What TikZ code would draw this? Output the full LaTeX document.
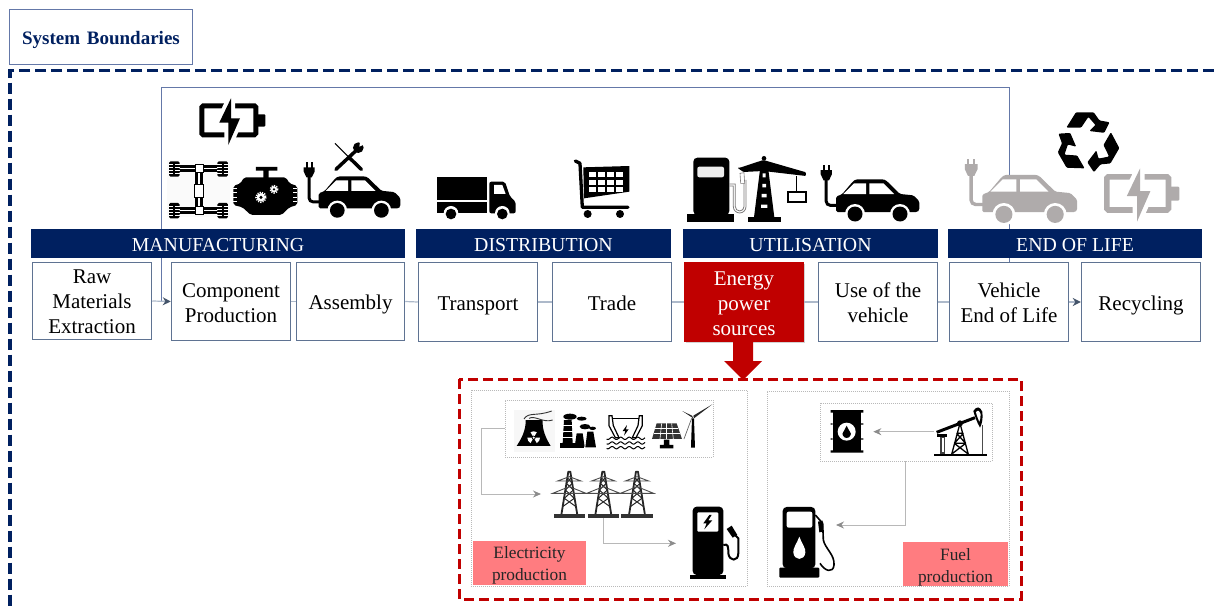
\documentclass[tikz,border=0pt]{standalone}
\usepackage{fontspec}
\setmainfont{Liberation Serif}
\usetikzlibrary{arrows.meta,shadows}
\definecolor{navy}{HTML}{002060}
\definecolor{crim}{HTML}{C00000}
\definecolor{pinkl}{HTML}{FF7C80}
\definecolor{slate}{HTML}{5F7392}
\definecolor{linkc}{HTML}{ADB9CA}
\definecolor{loopc}{HTML}{6478A8}
\definecolor{headc}{HTML}{44546A}
\definecolor{fade}{HTML}{AFABAB}
\definecolor{flow}{HTML}{B8B8B8}
\definecolor{flowh}{HTML}{8C8C8C}
\newcommand\lowt[2]{\raisebox{-#1pt}[\height][\depth]{\begin{tabular}{@{}c@{}}#2\end{tabular}}}
\tikzset{
  procbox/.style={draw=slate,line width=1.5pt,fill=white,text=black,inner sep=0pt,minimum width=119pt,minimum height=78pt,font=\fontsize{21}{25}\selectfont},
  barbox/.style={fill=navy,text=white,inner sep=0pt,minimum height=29pt,font=\fontsize{19.8}{23}\selectfont},
  link/.style={draw=linkc,line width=1.2pt},
  linkarrow/.style={link,-{Stealth[length=8pt,width=8pt,color=headc]}},
  flowline/.style={draw=flow,line width=1pt,-{Stealth[length=8pt,width=7pt,color=flowh]}},
  panelbox/.style={draw=gray!55,line width=.8pt,dash pattern=on 1pt off 1pt,inner sep=0pt,fill=white},
  pinkbox/.style={fill=pinkl,inner sep=0pt,text=black!85,font=\fontsize{17.3}{22}\selectfont},
  zoomE/.style={shift={(460,375)},scale=0.3333},
  zoomF/.style={shift={(760,375)},scale=0.3333},
  zoomM/.style={shift={(150,80)},scale=0.3333},
  zoomU/.style={shift={(680,90)},scale=0.3333},
  zoomD/.style={shift={(420,150)},scale=0.3333},
}
\newcommand\iconCar[4]{\begin{scope}[shift={(#1,#2)},scale=#3]
  \fill[#4] (2.7,-58.3) rectangle (4.6,-53);
  \fill[#4] (8,-58.3) rectangle (9.9,-53);
  \fill[#4] (0.7,-53.3) -- (11.9,-53.3) -- (11.9,-49) -- (9,-43) -- (3.5,-43) -- (0.7,-49) -- cycle;
  \draw[#4,line width=#3*3pt] (6.2,-44) -- (6.2,-22) arc[start angle=180,end angle=90,radius=4] -- (17,-18);
  \fill[#4,rounded corners=1.5pt] (16,-11.3) -- (16,-26.7) -- (22,-29) -- (33,-42) -- (36,-44) -- (63.3,-44) -- (66,-43) -- (80,-29.3) -- (93.3,-28) -- (99.3,-22) -- (99.3,-13) -- (97.3,-11.3) -- cycle;
  \fill[white] (23.3,-29.3) -- (34,-40) -- (46,-40) -- (46,-29.3) -- cycle;
  \fill[white] (49.3,-40) -- (63.3,-40) -- (74,-29.3) -- (49.3,-29.3) -- cycle;
  \fill[white] (35,-9.3) circle (10) (80,-9.3) circle (10);
  \fill[#4] (35,-9.3) circle (7.5) (80,-9.3) circle (7.5);
\end{scope}}
\newcommand\iconBatt[4]{\begin{scope}[shift={(#1,#2)},scale=#3]
  \draw[#4,line width=#3*5pt,rounded corners=1.5pt] (2.5,7.5) rectangle (56.5,36.5);
  \fill[#4,rounded corners=1pt] (58,16) rectangle (66,28.3);
  \path[draw=white,fill=white,line width=#3*8pt,line join=round] (31.7,0) -- (20,24.3) -- (29,24.3) -- (29,46.7) -- (40.7,20) -- (31.7,20) -- cycle;
  \fill[#4] (31.7,0) -- (20,24.3) -- (29,24.3) -- (29,46.7) -- (40.7,20) -- (31.7,20) -- cycle;
\end{scope}}
\newcommand\axwheel[2]{%
  \fill[black,rounded corners=1.5pt] (#1-16,#2-23) rectangle (#1+16,#2+23);
  \foreach \d in {-14,-5,5,14}{\draw[white,line width=.9pt] (#1-16,#2+\d) -- (#1-3,#2+\d) (#1+3,#2+\d) -- (#1+16,#2+\d);}%
}
\newcommand\gearw[3]{%
  \draw[white,line width=1.6pt,dash pattern=on 1.2pt off 1.2pt] (#1,#2) circle (#3);
  \fill[white] (#1,#2) circle (#3*0.85);
  \fill[black] (#1,#2) circle (#3*0.35);
}
\newcommand\pylon[1]{%
  \draw[black!85,line width=1.8pt,line join=round] (#1-24,420) -- (#1-3,290) -- (#1+3,290) -- (#1+24,420);
  \draw[black!85,line width=1pt] (#1-20,395) -- (#1+15,370) -- (#1-12,345) -- (#1+9,325) -- (#1-6,308) (#1+20,395) -- (#1-15,370) -- (#1+12,345) -- (#1-9,325) -- (#1+6,308);
  \draw[black!70,line width=.9pt] (#1-35,318) -- (#1+35,318) -- (#1,305) -- cycle;
  \draw[black!70,line width=.9pt] (#1-50,355) -- (#1+50,355) -- (#1,335) -- cycle;
  \fill[black!80] (#1-47,417) rectangle (#1+47,428);
}
\newcommand\waveln[1]{\draw[black,line width=1pt] plot[domain=440:555,samples=46] (\x,{#1+3.5*sin(\x*14)});}
\begin{document}
\begin{tikzpicture}[x=1pt,y=-1pt]
\useasboundingbox (0,0) rectangle (1214,610);
\fill[white] (0,0) rectangle (1214,610);
% title and outer frame
\node[draw=loopc,line width=1.3pt,minimum width=183pt,minimum height=55pt,inner sep=0pt,text=navy,font=\fontsize{19}{23}\selectfont\bfseries] (sysb) at (101,37) {\lowt{2.5}{System\hspace{2pt} Boundaries}};
\coordinate (ftr) at (1214,70.5);
\coordinate (ftl) at (10,70.5);
\coordinate (fbl) at (10,610);
\draw[navy,line width=3.5pt,dash pattern=on 11pt off 5pt] (ftr) -- (ftl) -- (fbl);
% process boxes
\node[procbox,minimum height=77pt] (raw) at (92,301) {\lowt{2.5}{Raw\\Materials\\Extraction}};
\node[procbox] (comp) at (231,301.5) {\lowt{3}{Component\\Production}};
\node[procbox,minimum width=108pt] (asm) at (350.5,301.5) {\lowt{3}{\vphantom{Tp}Assembly}};
\node[procbox,minimum height=79pt] (trans) at (478,302) {\lowt{3}{\vphantom{Tp}Transport}};
\node[procbox,minimum height=79pt] (trade) at (612,302) {\lowt{3}{\vphantom{Tp}Trade}};
\node[procbox,draw=crim,fill=crim,text=white,minimum height=79pt,drop shadow={shadow xshift=1pt,shadow yshift=-1.5pt,opacity=.35}] (energy) at (744,302) {\lowt{3}{Energy\\power\\sources}};
\node[procbox,minimum height=79pt] (use) at (878,302) {\lowt{3}{Use of the\\vehicle}};
\node[procbox,minimum height=79pt] (veh) at (1009,302) {\lowt{3}{Vehicle\\End of Life}};
\node[procbox,minimum height=79pt] (recy) at (1141,302) {\lowt{3}{\vphantom{Tp}Recycling}};
% connectors
\coordinate (looptr) at (1009,87);
\coordinate (looptl) at (161,87);
\coordinate (loopb) at (161,301);
\draw[loopc,line width=1pt] (veh.north) -- (looptr) -- (looptl) -- (loopb);
\draw[linkarrow] (raw.east) -- (comp.west);
\draw[link] (comp.east) -- (asm.west);
\draw[link] (asm.east) -- (trans.west);
\draw[link] (trans.east) -- (trade.west);
\draw[link] (trade.east) -- (energy.west);
\draw[link] (energy.east) -- (use.west);
\draw[link] (use.east) -- (veh.west);
\draw[linkarrow] (veh.east) -- (recy.west);
% bars
\node[barbox,minimum width=374pt] (bman) at (218,243.5) {\lowt{3}{MANUFACTURING}};
\node[barbox,minimum width=255pt] (bdis) at (543.5,243.5) {\lowt{3}{DISTRIBUTION}};
\node[barbox,minimum width=255pt] (buti) at (810.5,243.5) {\lowt{3}{UTILISATION}};
\node[barbox,minimum width=254pt] (beol) at (1075,243.5) {\lowt{3}{END OF LIFE}};
% lower frame
\coordinate (redtip) at (743,380);
\fill[crim] (733,342) -- (753,342) -- (753,361) -- (762,361) -- (redtip) -- (724,361) -- (733,361) -- cycle;
\draw[crim,line width=3pt,dash pattern=on 10pt off 5pt] (459,379) rectangle (1021,599);
\node[panelbox,minimum width=276pt,minimum height=196pt] (pel) at (609,488) {};
\node[panelbox,minimum width=242pt,minimum height=195pt] (pfu) at (888,488.5) {};
\node[panelbox,minimum width=208pt,minimum height=57pt] (src) at (609,428.5) {};
\node[panelbox,minimum width=172pt,minimum height=58pt] (oil) at (906,432) {};
\node[pinkbox,minimum width=113pt,minimum height=43pt] (lel) at (529.5,562.5) {\lowt{2.5}{Electricity\\production}};
\node[pinkbox,minimum width=105pt,minimum height=42pt] (lfu) at (955.5,564) {\lowt{3}{Fuel\\production}};
\coordinate (f1a) at (481,428.5);
\coordinate (f1b) at (481,494);
\coordinate (f1c) at (541,494);
\coordinate (f2a) at (603.7,518);
\coordinate (f2b) at (603.7,543.3);
\coordinate (f2c) at (676,543.3);
\coordinate (f3a) at (934,431.7);
\coordinate (f3b) at (873.3,431.7);
\coordinate (f4b) at (905.7,525);
\coordinate (f4c) at (836,525);
\draw[flowline] (src.west) -- (f1a) -- (f1b) -- (f1c);
\draw[flowline] (f2a) -- (f2b) -- (f2c);
\draw[flowline] (f3a) -- (f3b);
\draw[flowline] (oil.south -| f4b) -- (f4b) -- (f4c);
% battery, cars
\iconBatt{199.3}{98.3}{1}{black}
\iconCar{303}{219.5}{0.98}{black}
\iconCar{820}{223.3}{1}{black}
\iconCar{964}{225}{1.14}{fade}
\iconBatt{1104}{168.3}{1.14}{fade}
% chassis, engine, tools
\begin{scope}[zoomM]
  \fill[black!2] (52,240) rectangle (240,410);
  \draw[black,line width=3pt,double=white,double distance=1.2pt] (85,265) -- (210,265) (85,392) -- (210,392) (147,265) -- (147,392);
  \axwheel{73}{267}\axwheel{218}{267}\axwheel{73}{392}\axwheel{218}{392}
  \draw[black,fill=white,line width=1pt] (136,255) rectangle (160,278) (136,380) rectangle (160,404) (135,314) rectangle (160,352);
  % engine
  \fill[black] (318,261) rectangle (382,272) (340,272) rectangle (356,295);
  \fill[black,rounded corners=2pt] (282,292) -- (408,292) -- (418,310) -- (442,318) -- (442,375) -- (418,382) -- (395,405) -- (302,405) -- (278,382) -- (250,375) -- (250,318) -- (272,310) -- cycle;
  \foreach \yy in {325,338,351,364}{\draw[white,line width=.6pt] (250,\yy) -- (262,\yy) (430,\yy) -- (442,\yy);}
  \gearw{333}{352}{15}
  \gearw{372}{328}{11}
  % tools
  \draw[black,line width=1pt] (555,190) -- (600,235);
  \draw[black,line width=3.5pt,line cap=round] (600,235) -- (634,268);
  \draw[black,line width=3.5pt,line cap=round] (558,268) -- (618,212);
  \fill[black] (625,203) circle (16);
  \fill[white] (628,200) -- (650,190) -- (632,175) -- cycle;
\end{scope}
% truck and cart
\begin{scope}[zoomD]
  \fill[black] (52,80) rectangle (202,150);
  \fill[black] (52,155) rectangle (202,190);
  \fill[black,rounded corners=2pt] (208,95) -- (255,95) -- (270,140) -- (287,155) -- (287,190) -- (208,190) -- cycle;
  \fill[white] (222,105) -- (247,105) -- (257,132) -- (222,132) -- cycle;
  \fill[white] (93,190) circle (22) (247,190) circle (22);
  \fill[black] (93,192) circle (16) (247,192) circle (16);
  % cart
  \fill[black] (490,52) -- (628,48) -- (628,125) -- (492,145) -- cycle;
  \foreach \xx in {507,534,561,589}{\foreach \yy in {66,90,112}{\fill[white] (\xx,\yy) rectangle (\xx+20,\yy+14);}}
  \draw[black,line width=3.3pt,line cap=round,line join=round] (466,33) -- (480,40) -- (487,172) -- (624,172);
  \fill[black] (503,192) circle (12) (600,192) circle (12);
\end{scope}
% pump + crane
\begin{scope}[zoomU]
  \fill[black,rounded corners=4pt] (40,375) -- (40,203) -- (148,203) -- (148,375) -- cycle;
  \fill[black] (22,373) rectangle (163,397);
  \fill[black!7,rounded corners=2pt] (52,230) rectangle (132,262);
  \draw[fade!70!black,line width=.8pt] (148,282) -- (166,282) -- (166,350) arc[start angle=180,end angle=0,radius=13] -- (192,270) (148,288) -- (160,288) -- (160,350) arc[start angle=180,end angle=0,radius=19] -- (198,270);
  \fill[white,draw=fade!70!black,line width=.6pt] (180,250) -- (192,248) -- (194,280) -- (182,280) -- cycle;
  % crane
  \fill[black] (203,380) rectangle (302,397);
  \fill[black] (243,215) -- (262,215) -- (283,382) -- (222,382) -- cycle;
  \fill[black] (252,205) circle (7);
  \fill[black,rounded corners=1pt] (172,233) -- (180,233) -- (250,210) -- (378,247) -- (378,258) -- (250,243) -- (190,246) -- cycle;
  \fill[white] (248,250) rectangle (257,262) (247,282) rectangle (258,292) (245,312) rectangle (260,322) (243,344) rectangle (262,354);
  \draw[black,line width=.9pt] (350,258) -- (350,306);
  \draw[black,fill=white,line width=1.7pt] (325,306) rectangle (378,336);
\end{scope}
% recycling symbol
\foreach \rr in {0,120,240}{
\begin{scope}[shift={(1087.3,142.7)},rotate=\rr,scale=1.06]
  \fill[black,rounded corners=1pt] (-19.7,-14.3) -- (-10.7,-28.7) -- (6,-28.7) -- (11.5,-21) -- (21,-19.3) -- (16,-9.3) -- (2,-11) -- (7.7,-16.7) -- (1,-24.3) -- (-5.7,-14.3) -- cycle;
\end{scope}}
% electricity sources
\begin{scope}[zoomE]
  % nuclear
  \fill[black!3] (162,105) rectangle (285,232);
  \fill[black] (197,135) -- (248,135) .. controls (246,165) and (258,190) .. (272,213) -- (170,213) .. controls (185,190) and (198,165) .. (197,135) -- cycle;
  \fill[white] (221,188) -- (240,188) arc[start angle=0,end angle=60,radius=19] -- cycle;
  \fill[white] (221,188) -- (202,188) arc[start angle=180,end angle=120,radius=19] -- cycle;
  \fill[white] (221,188) -- (211.5,171.5) arc[start angle=-120,end angle=-60,radius=19] -- cycle;
  \fill[black] (221,188) circle (6);
  \fill[white] (221,188) circle (3.5);
  \draw[black!80,line width=.9pt] (192,132) .. controls (205,110) and (230,125) .. (275,108);
  \draw[black!80,line width=.9pt] (207,130) .. controls (225,120) and (250,145) .. (278,135);
  % factory
  \fill[black] (312,135) -- (335,135) -- (338,205) -- (308,205) -- cycle;
  \foreach \yy in {150,168,186}{\fill[white] (305,\yy) rectangle (342,\yy+3);}
  \fill[black] (300,205) rectangle (372,219);
  \fill[black] (350,175) -- (368,175) -- (374,215) -- (344,215) -- cycle;
  \fill[black] (382,170) -- (400,170) -- (408,217) -- (376,217) -- cycle;
  \fill[black] (330,125) ellipse (20 and 9) (365,131) ellipse (15 and 6) (375,155) ellipse (16 and 8) (398,160) ellipse (10 and 5);
  % dam
  \draw[black,line width=1.2pt,fill=white] (447,122) -- (456,122) -- (460,152) -- (477,188) -- (466,188) -- (447,152) -- cycle;
  \draw[black,line width=1.2pt,fill=white] (547,122) -- (538,122) -- (534,152) -- (517,188) -- (528,188) -- (547,152) -- cycle;
  \draw[black,line width=.8pt] (456,130) -- (538,130);
  \fill[black] (501,150) -- (488,168) -- (496,168) -- (492,182) -- (506,163) -- (498,163) -- cycle;
  \waveln{190}\waveln{204}\waveln{218}
  % solar
  \fill[black!80] (590,145) -- (650,145) -- (666,192) -- (576,192) -- cycle;
  \foreach \xa/\xb in {605/600,620/620,635/640}{\draw[white,line width=.6pt] (\xa,145) -- (\xb,192);}
  \foreach \ya/\xa/\xb in {160/586/655,176/581/660}{\draw[white,line width=.6pt] (\xa,\ya) -- (\xb,\ya);}
  \fill[black] (612,194) rectangle (628,212) (600,210) rectangle (640,220);
  % turbine
  \fill[black] (696,130) -- (702,130) -- (705,218) -- (693,218) -- cycle;
  \fill[black!85] (700,122) -- (757,88) -- (702,130) -- cycle;
  \fill[black!85] (700,130) -- (667,108) -- (696,122) -- cycle;
  \draw[black!60,line width=.7pt] (695,130) -- (672,192);
  % pylons
  \pylon{328}\pylon{430}\pylon{531}
  % charger
  \fill[black,rounded corners=4pt] (698,600) -- (698,395) -- (790,395) -- (790,600) -- cycle;
  \fill[black] (690,600) rectangle (797,613);
  \fill[white,rounded corners=1pt] (712,412) rectangle (775,470);
  \fill[black] (748,420) -- (730,445) -- (740,445) -- (733,463) -- (757,436) -- (745,436) -- (755,420) -- cycle;
  \draw[black,line width=2pt] (790,510) .. controls (805,505) and (805,515) .. (805,535) .. controls (808,560) and (835,560) .. (835,535) -- (835,490) -- (820,475);
  \fill[black] (800,462) -- (815,452) -- (832,480) -- (818,488) -- cycle;
\end{scope}
% fuel side
\begin{scope}[zoomF]
  % barrel
  \fill[black] (218,108) rectangle (303,232);
  \fill[black] (212,105) rectangle (310,113) (212,226) rectangle (310,233) (212,145) rectangle (218,149) (303,145) rectangle (310,149) (212,190) rectangle (218,194) (303,190) rectangle (310,194);
  \fill[white] (260,170) circle (27);
  \fill[black] (260,152) .. controls (268,170) and (275,175) .. (272,180) .. controls (268,192) and (252,192) .. (248,180) .. controls (245,175) and (252,170) .. (260,152) -- cycle;
  % pump jack
  \fill[black] (522,237) rectangle (682,243);
  \draw[black,line width=1.3pt] (575,238) -- (600,145) -- (625,238) (583,205) -- (617,205) (590,175) -- (610,175) (583,205) -- (610,175) (617,205) -- (590,175) (578,235) -- (617,205) (622,235) -- (583,205);
  \draw[black,line width=3pt] (530,172) -- (645,128);
  \fill[black] (600,145) circle (9);
  \fill[black] (640,108) .. controls (650,92) and (660,95) .. (667,110) .. controls (670,130) and (665,150) .. (660,158) .. controls (650,140) and (645,125) .. (640,108) -- cycle;
  \fill[white] (648,112) .. controls (652,105) and (658,105) .. (662,118) .. controls (662,128) and (660,135) .. (658,140) .. controls (654,130) and (650,122) .. (648,112) -- cycle;
  \draw[black!70,line width=.6pt] (668,150) -- (668,238);
  \fill[black!75] (540,183) rectangle (556,238);
  \fill[white] (545,190) rectangle (551,232);
  \fill[black] (532,178) rectangle (562,186);
  % pump
  \fill[black,rounded corners=4pt] (68,580) -- (68,396) -- (166,396) -- (166,580) -- cycle;
  \fill[black,rounded corners=1pt] (58,578) rectangle (178,608);
  \fill[white,rounded corners=2pt] (80,410) rectangle (157,458);
  \fill[white] (118,485) .. controls (125,505) and (138,520) .. (136,533) .. controls (133,558) and (103,558) .. (100,533) .. controls (98,520) and (111,505) .. (118,485) -- cycle;
  \draw[black,line width=1.6pt] (166,420) -- (188,445) -- (190,495) .. controls (195,520) and (225,540) .. (222,570) .. controls (220,595) and (195,590) .. (180,565);
  \fill[black] (174,440) -- (188,437) -- (190,470) -- (178,472) -- cycle;
\end{scope}
\end{tikzpicture}
\end{document}
